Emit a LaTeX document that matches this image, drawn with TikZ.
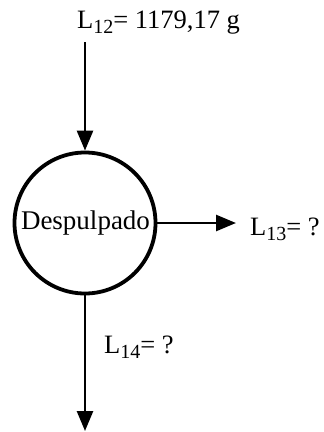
\documentclass[tikz,border=0pt]{standalone}
\usepackage{fontspec}
\setmainfont{Liberation Serif}
\usetikzlibrary{arrows.meta}
\newcommand{\mysub}[1]{\raisebox{-5pt}{\fontsize{20}{21}\selectfont #1}}
\begin{document}
\begin{tikzpicture}[x=1pt,y=-1pt,
  lbl/.style={font=\fontsize{26.5}{30}\selectfont, inner sep=0pt},
  flow/.style={line width=2.6pt, -{Triangle[length=20pt,width=16pt]}},
  proc/.style={circle, draw, line width=3.8pt, minimum size=141pt, inner sep=0pt},
  proctext/.style={inner sep=0pt, font=\fontsize{27}{32}\selectfont}]
\useasboundingbox (0,0) rectangle (324,432);
\node[proc] (p) at (85,223) {};
\node[proctext] (ptxt) at (85.5,223) {Despulpado};
\node[lbl, anchor=base west] (l12) at (77,28) {L\mysub{12}= 1179,17 g};
\coordinate (in) at (85,42);
\coordinate (outr) at (236,223);
\coordinate (outb) at (85,431);
\node[lbl, anchor=base west] (l13) at (250,235) {L\mysub{13}= ?};
\node[lbl, anchor=base west] (l14) at (104,353) {L\mysub{14}= ?};
\draw[flow] (in) -- (p.north);
\draw[flow] (p.east) -- (outr);
\draw[flow] (p.south) -- (outb);
\end{tikzpicture}
\end{document}
